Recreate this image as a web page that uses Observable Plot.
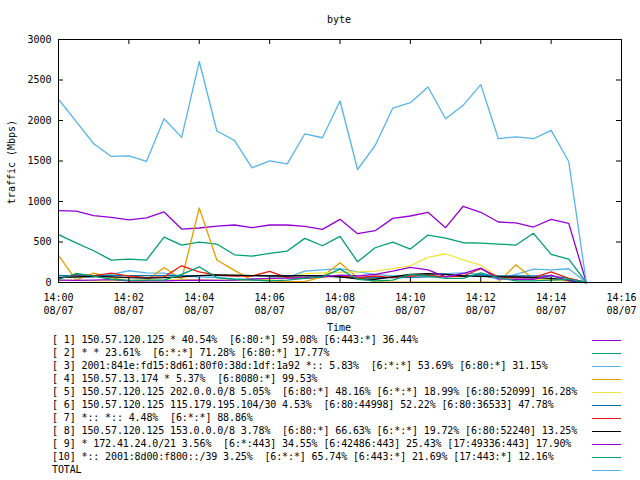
<!DOCTYPE html>
<html>
<head>
<meta charset="utf-8">
<script src="https://cdn.jsdelivr.net/npm/d3@7"></script>
<script src="https://cdn.jsdelivr.net/npm/@observablehq/plot@0.6"></script>
<style>
  html, body { margin: 0; padding: 0; background: #fff; }
  #wrap { position: relative; width: 640px; height: 480px; font-family: "DejaVu Sans Mono", monospace; font-size: 10px; color: #000; overflow: hidden; }
  #wrap svg { position: absolute; left: 0; top: 0; }
  .abs { position: absolute; white-space: pre; line-height: 13px; }
  .leg { letter-spacing: -0.12px; }
  .lg { position: absolute; height: 1px; }
</style>
</head>
<body>
<div id="wrap"></div>
<script>
const times = ["14:00:00","14:00:30","14:01:00","14:01:30","14:02:00","14:02:30","14:03:00","14:03:30",
  "14:04:00","14:04:30","14:05:00","14:05:30","14:06:00","14:06:30","14:07:00","14:07:30",
  "14:08:00","14:08:30","14:09:00","14:09:30","14:10:00","14:10:30","14:11:00","14:11:30",
  "14:12:00","14:12:30","14:13:00","14:13:30","14:14:00","14:14:30","14:15:00"];

const s1  = [887,880,825,805,772,797,871,660,673,697,710,677,710,710,693,656,780,603,640,792,821,867,677,941,867,747,735,685,780,730,0];
const s2  = [590,490,392,277,289,277,561,462,499,475,342,326,359,388,545,454,570,256,429,499,413,586,549,491,487,475,462,607,347,289,0];
const s3  = [90,60,70,100,145,120,115,80,70,60,40,45,50,60,140,155,170,130,100,80,90,100,110,120,100,40,100,165,155,170,0];
const s4  = [334,30,115,60,20,20,186,40,920,277,150,30,20,10,10,70,244,60,10,5,5,5,5,5,5,5,219,40,30,20,0];
const s5  = [30,25,20,20,25,30,30,40,30,30,25,30,40,60,110,120,125,130,140,170,206,310,355,280,215,62,40,40,30,20,0];
const s6  = [85,85,85,85,85,85,85,85,85,85,85,85,85,85,85,85,70,60,60,60,65,70,75,80,95,80,80,80,80,50,0];
const s7  = [50,100,85,115,80,60,70,206,130,90,80,80,136,60,50,70,80,60,80,60,80,90,70,80,170,70,60,60,130,50,0];
const s8  = [60,70,75,70,60,55,60,70,85,95,90,85,80,80,85,80,70,45,40,70,100,110,100,80,75,70,70,60,50,30,0];
const s9  = [30,25,30,35,20,20,20,25,30,25,30,40,50,55,60,70,90,80,100,140,186,157,70,111,177,45,40,40,90,20,0];
const s10 = [40,111,80,40,25,30,30,100,194,60,40,30,20,30,50,70,165,40,20,30,100,80,50,50,120,60,20,20,30,40,0];
const total = [2262,1990,1713,1556,1564,1494,2022,1791,2728,1870,1754,1416,1502,1465,1836,1787,2241,1395,1692,2154,2220,2414,2022,2187,2443,1775,1799,1775,1878,1494,0];

const seriesLabels = [
  "[ 1] 150.57.120.125 * 40.54%  [6:80:*] 59.08% [6:443:*] 36.44%",
  "[ 2] * * 23.61%  [6:*:*] 71.28% [6:80:*] 17.77%",
  "[ 3] 2001:841e:fd15:8d61:80f0:38d:1df:1a92 *:: 5.83%  [6:*:*] 53.69% [6:80:*] 31.15%",
  "[ 4] 150.57.13.174 * 5.37%  [6:8080:*] 99.53%",
  "[ 5] 150.57.120.125 202.0.0.0/8 5.05%  [6:80:*] 48.16% [6:*:*] 18.99% [6:80:52099] 16.28%",
  "[ 6] 150.57.120.125 115.179.195.104/30 4.53%  [6:80:44998] 52.22% [6:80:36533] 47.78%",
  "[ 7] *:: *:: 4.48%  [6:*:*] 88.86%",
  "[ 8] 150.57.120.125 153.0.0.0/8 3.78%  [6:80:*] 66.63% [6:*:*] 19.72% [6:80:52240] 13.25%",
  "[ 9] * 172.41.24.0/21 3.56%  [6:*:443] 34.55% [6:42486:443] 25.43% [17:49336:443] 17.90%",
  "[10] *:: 2001:8d00:f800::/39 3.25%  [6:*:*] 65.74% [6:443:*] 21.69% [17:443:*] 12.16%",
  "TOTAL"
];
const seriesColors = ["#9400d3","#009e73","#56b4e9","#e69f00","#f0e442","#0072b2","#e51e10","#000000","#9400d3","#009e73","#56b4e9"];
const seriesValues = [s1,s2,s3,s4,s5,s6,s7,s8,s9,s10,total];

const xTickLabels = ["14:00","14:02","14:04","14:06","14:08","14:10","14:12","14:14","14:16"];
const yTicks = [0,500,1000,1500,2000,2500,3000];
const dateLabel = "08/07";

const toDate = s => { const [h,m,sec] = s.split(":").map(Number); return new Date(Date.UTC(2000,7,7,h,m,sec||0)); };
const xTicks = xTickLabels.map(toDate);

const rows = [];
seriesValues.forEach((vals, si) => {
  vals.forEach((v, i) => rows.push({t: toDate(times[i]), v, s: seriesLabels[si]}));
});

const W = 640, H = 335, mL = 58, mR = 19, mT = 39, mB = 53;
const innerW = W - mL - mR, innerH = H - mT - mB;
const tickLen = 5;

const chart = Plot.plot({
  width: W, height: H,
  marginLeft: mL, marginRight: mR, marginTop: mT, marginBottom: mB,
  style: {fontFamily: "DejaVu Sans Mono", fontSize: "10px", color: "#000", background: "transparent", overflow: "visible"},
  x: {type: "utc", domain: [xTicks[0], xTicks[xTicks.length-1]]},
  y: {domain: [0, 3000]},
  color: {domain: seriesLabels, range: seriesColors},
  marks: [
    Plot.lineY(rows, {x: "t", y: "v", z: "s", stroke: "s", strokeWidth: 1.3}),
    Plot.tickX(xTicks, {x: d => d, insetTop: innerH - tickLen, stroke: "#000"}),
    Plot.tickX(xTicks, {x: d => d, insetBottom: innerH - tickLen, stroke: "#000"}),
    Plot.tickY(yTicks, {y: d => d, insetRight: innerW - tickLen, stroke: "#000"}),
    Plot.tickY(yTicks, {y: d => d, insetLeft: innerW - tickLen, stroke: "#000"}),
    Plot.frame({stroke: "#000"}),
    Plot.axisX({ticks: xTicks, tickSize: 0, tickPadding: 9, lineHeight: 1.33, fontSize: 10,
      tickFormat: d => d3.utcFormat("%H:%M")(d) + "\n" + dateLabel, label: null}),
    Plot.axisY({ticks: yTicks, tickSize: 0, tickPadding: 7, fontSize: 10, tickFormat: d => String(d), label: null})
  ]
});

const wrap = document.getElementById("wrap");
wrap.appendChild(chart);

function addText(txt, left, top, extra, cls) {
  const d = document.createElement("div");
  d.className = "abs" + (cls ? " " + cls : "");
  d.textContent = txt;
  d.style.left = left + "px";
  d.style.top = top + "px";
  if (extra) Object.assign(d.style, extra);
  wrap.appendChild(d);
  return d;
}
// title
addText("byte", 339, 13, {transform: "translateX(-50%)"});
// y label
addText("traffic (Mbps)", 11, 162, {transform: "translate(-50%,-50%) rotate(-90deg)"});
// x label
addText("Time", 339, 321, {transform: "translateX(-50%)"});
// legend
seriesLabels.forEach((lab, i) => {
  const cy = 340 + 13 * i;
  addText(lab, 52, cy - 7, null, "leg");
  const ln = document.createElement("div");
  ln.className = "lg";
  ln.style.left = "592px";
  ln.style.width = "29px";
  ln.style.top = (cy - 0.5) + "px";
  ln.style.background = seriesColors[i];
  wrap.appendChild(ln);
});
</script>
</body>
</html>
